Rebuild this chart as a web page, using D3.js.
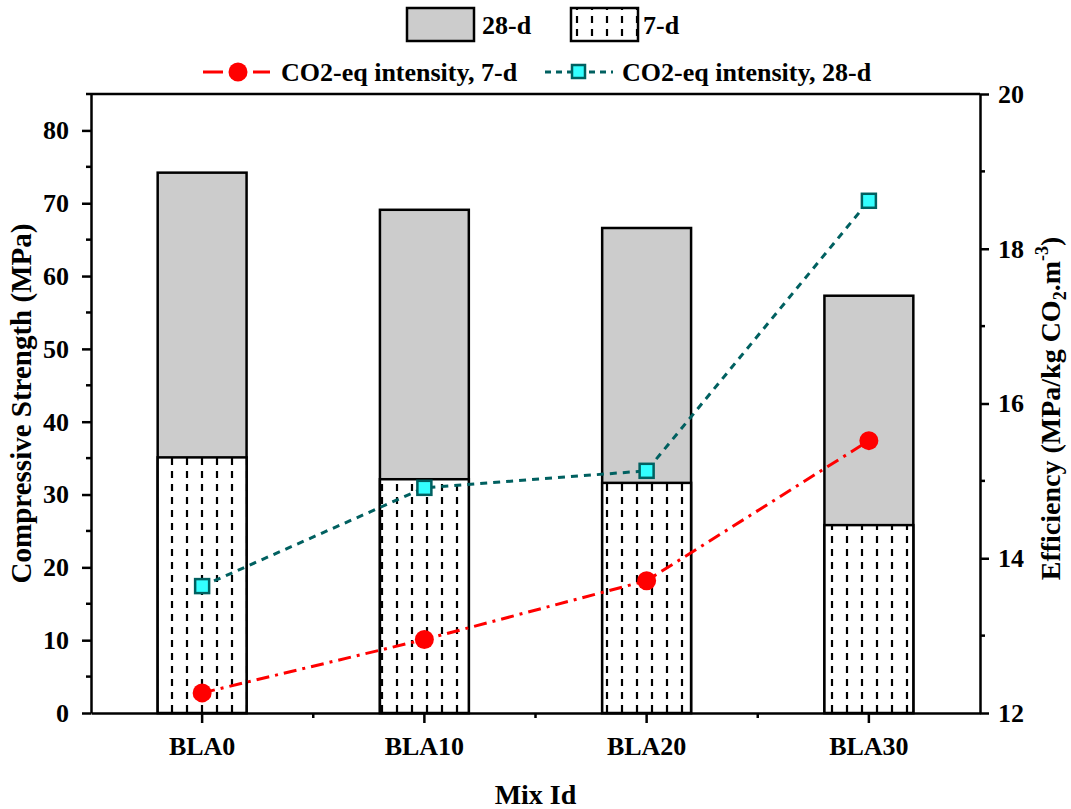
<!DOCTYPE html>
<html><head><meta charset="utf-8">
<script src="https://cdn.jsdelivr.net/npm/d3@7"></script>
<style>
html,body{margin:0;padding:0;background:#fff;}
text{font-family:"Liberation Serif","Times New Roman",serif;font-weight:bold;fill:#000;}
</style></head>
<body>
<svg id="chart" width="1071" height="809"></svg>
<script>
const mixIds = ["BLA0","BLA10","BLA20","BLA30"];
const strength28 = [74.2, 69.1, 66.6, 57.3];
const strength7 = [35.1, 32.1, 31.6, 25.8];
const eff7 = [12.26, 12.95, 13.71, 15.52];
const eff28 = [13.64, 14.91, 15.13, 18.62];
const leftTicks = [0,10,20,30,40,50,60,70,80];
const rightTicks = [12,14,16,18,20];

const W = 1071, H = 809;
const m = {l:91, r:91, t:94, b:96};
const svg = d3.select("#chart");
const defs = svg.append("defs");
const pat = defs.append("pattern").attr("id","hatch").attr("patternUnits","userSpaceOnUse")
  .attr("width",15).attr("height",13).attr("x",0).attr("y",0);
pat.append("rect").attr("width",15).attr("height",13).attr("fill","#fff");
pat.append("line").attr("x1",7).attr("x2",7).attr("y1",3).attr("y2",10)
  .attr("stroke","#000").attr("stroke-width",2.2);

const x = d3.scaleBand().domain(mixIds).range([m.l, W-m.r]).padding(0);
const yL = d3.scaleLinear().domain([0,85]).range([H-m.b, m.t]);
const yR = d3.scaleLinear().domain([12,20]).range([H-m.b, m.t]);
const bw = x.bandwidth()*0.4;

// bars
const g = svg.append("g");
g.selectAll("rect.b28").data(mixIds).join("rect")
  .attr("x", d=>x(d)+x.bandwidth()/2-bw/2).attr("width",bw)
  .attr("y",(d,i)=>yL(strength28[i])).attr("height",(d,i)=>yL(0)-yL(strength28[i]))
  .attr("fill","#cccccc").attr("stroke","#000").attr("stroke-width",2.5);
g.selectAll("rect.b7").data(mixIds).join("rect")
  .attr("x", d=>x(d)+x.bandwidth()/2-bw/2).attr("width",bw)
  .attr("y",(d,i)=>yL(strength7[i])).attr("height",(d,i)=>yL(0)-yL(strength7[i]))
  .attr("fill","url(#hatch)").attr("stroke","#000").attr("stroke-width",2.5);

// axes
const axStyle = sel => { sel.select(".domain").attr("stroke","#000").attr("stroke-width",2.5);
  sel.selectAll(".tick line").attr("stroke","#000").attr("stroke-width",2.5);
  sel.selectAll(".tick text").style("font-size","26px").style("font-family","Liberation Serif").style("font-weight","bold"); };

const axL = svg.append("g").attr("transform",`translate(${m.l},0)`)
  .call(d3.axisLeft(yL).tickValues(leftTicks).tickSize(9).tickPadding(13).tickSizeOuter(0));
axStyle(axL);
axL.selectAll(".minor").data(d3.range(5,85,10)).join("line")
  .attr("x1",-5).attr("x2",0).attr("y1",d=>yL(d)).attr("y2",d=>yL(d))
  .attr("stroke","#000").attr("stroke-width",2.5);

const axR = svg.append("g").attr("transform",`translate(${W-m.r},0)`)
  .call(d3.axisRight(yR).tickValues(rightTicks).tickSize(9).tickPadding(9).tickSizeOuter(0));
axStyle(axR);
axR.selectAll(".minor").data([13,15,17,19]).join("line")
  .attr("x1",0).attr("x2",5).attr("y1",d=>yR(d)).attr("y2",d=>yR(d))
  .attr("stroke","#000").attr("stroke-width",2.5);

const axB = svg.append("g").attr("transform",`translate(0,${H-m.b})`)
  .call(d3.axisBottom(x).tickSize(10).tickPadding(14).tickSizeOuter(0));
axStyle(axB);
axB.selectAll(".minor").data(d3.range(1,4)).join("line")
  .attr("x1",d=>m.l+x.step()*d).attr("x2",d=>m.l+x.step()*d).attr("y1",0).attr("y2",5)
  .attr("stroke","#000").attr("stroke-width",2.5);

svg.append("line").attr("x1",m.l-5).attr("x2",W-m.r).attr("y1",m.t).attr("y2",m.t)
  .attr("stroke","#000").attr("stroke-width",2.5);

// lines
const cx = d => x(d)+x.bandwidth()/2;
const line7 = d3.line().x((d,i)=>cx(mixIds[i])).y(d=>yR(d));
svg.append("path").attr("d",line7(eff7)).attr("fill","none").attr("stroke","#ff0000")
  .attr("stroke-width",3).attr("stroke-dasharray","13,6,3,6");
svg.append("path").attr("d",line7(eff28)).attr("fill","none").attr("stroke","#006060")
  .attr("stroke-width",3).attr("stroke-dasharray","7,6");
svg.selectAll("circle.p7").data(eff7).join("circle")
  .attr("cx",(d,i)=>cx(mixIds[i])).attr("cy",d=>yR(d)).attr("r",9.5).attr("fill","#ff0000");
svg.selectAll("rect.p28").data(eff28).join("rect")
  .attr("x",(d,i)=>cx(mixIds[i])-7).attr("y",d=>yR(d)-7).attr("width",14).attr("height",14)
  .attr("fill","#33ffff").attr("stroke","#006060").attr("stroke-width",2.5);

// titles
svg.append("text").attr("transform",`translate(31,${(m.t+H-m.b)/2}) rotate(-90)`)
  .attr("text-anchor","middle").style("font-size","29px").text("Compressive Strength (MPa)");
const rt = svg.append("text").attr("transform",`translate(1060,${(m.t+H-m.b)/2 + 5}) rotate(-90)`)
  .attr("text-anchor","middle").style("font-size","28px");
rt.append("tspan").text("Efficiency (MPa/kg CO");
rt.append("tspan").attr("dy",6).style("font-size","18px").text("2");
rt.append("tspan").attr("dy",-6).text(".m");
rt.append("tspan").attr("dy",-12).style("font-size","18px").text("-3");
rt.append("tspan").attr("dy",12).text(")");
svg.append("text").attr("x",(m.l+W-m.r)/2).attr("y",804).attr("text-anchor","middle")
  .style("font-size","28px").text("Mix Id");

// legend
const lg = svg.append("g");
lg.append("rect").attr("x",407).attr("y",8).attr("width",67).attr("height",33)
  .attr("fill","#cccccc").attr("stroke","#000").attr("stroke-width",2.5);
lg.append("text").attr("x",482).attr("y",34).style("font-size","26px").text("28-d");
lg.append("rect").attr("x",571).attr("y",8).attr("width",67).attr("height",33)
  .attr("fill","url(#hatch)").attr("stroke","#000").attr("stroke-width",2.5);
lg.append("text").attr("x",643).attr("y",34).style("font-size","26px").text("7-d");

lg.append("line").attr("x1",203).attr("x2",270).attr("y1",72).attr("y2",72)
  .attr("stroke","#ff0000").attr("stroke-width",3).attr("stroke-dasharray","20,30,20");
lg.append("circle").attr("cx",238).attr("cy",72).attr("r",9.5).attr("fill","#ff0000");
lg.append("text").attr("x",281).attr("y",81).style("font-size","26px").text("CO2-eq intensity, 7-d");
lg.append("line").attr("x1",545).attr("x2",613).attr("y1",72).attr("y2",72)
  .attr("stroke","#006060").attr("stroke-width",3).attr("stroke-dasharray","6,5");
lg.append("rect").attr("x",572).attr("y",65).attr("width",13).attr("height",13)
  .attr("fill","#33ffff").attr("stroke","#006060").attr("stroke-width",2.5);
lg.append("text").attr("x",622).attr("y",81).style("font-size","26px").text("CO2-eq intensity, 28-d");
</script>
</body></html>
